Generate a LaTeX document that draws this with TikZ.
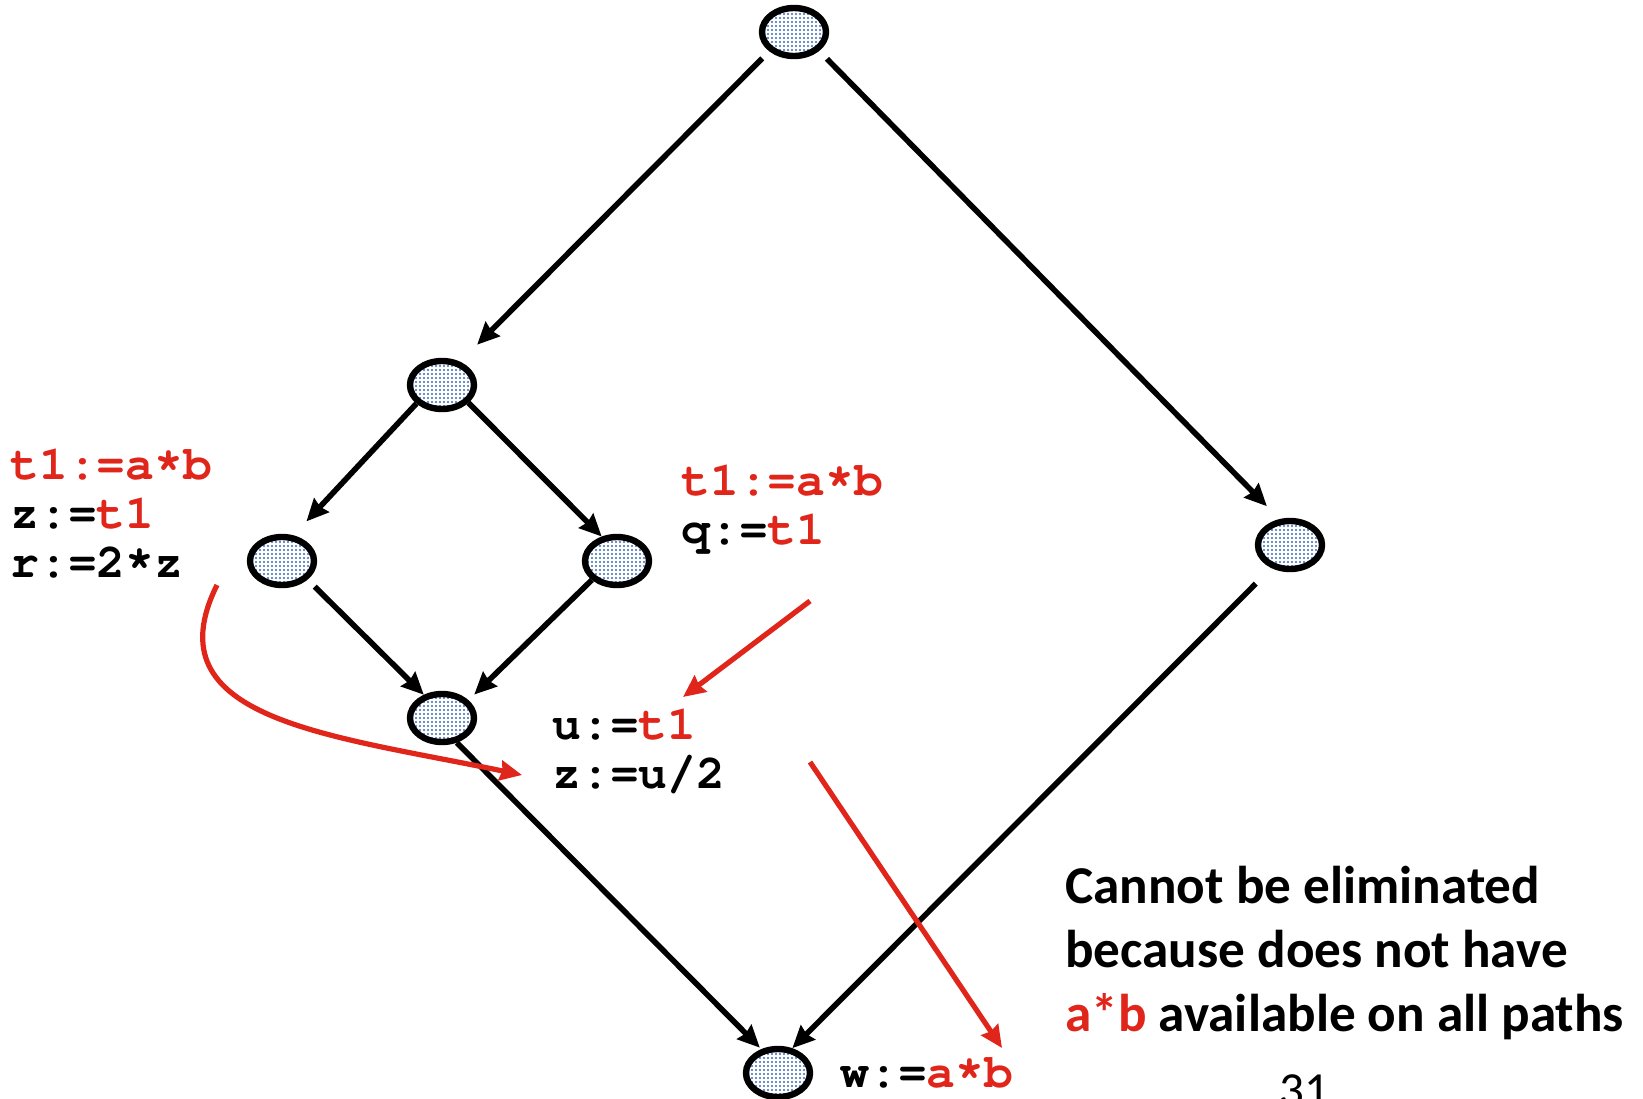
\documentclass[tikz,border=0pt]{standalone}
\usepackage{fontspec}
\setmainfont{Carlito}
\setmonofont{Liberation Mono}
\usetikzlibrary{shapes.geometric,arrows.meta,patterns.meta}

\definecolor{hot}{HTML}{E0261B}
\definecolor{dots}{HTML}{3A68B8}

% raised asterisk for the code lines
\newcommand\tms{\raisebox{0.3ex}{*}}

\tikzset{
  blk/.style={ellipse, draw, line width=3.2pt, minimum width=32pt, minimum height=24pt,
    inner sep=0pt, preaction={fill=white}, pattern={Dots[distance=2pt,radius=0.6pt]}, pattern color=dots},
  code/.style={anchor=base west, inner sep=0pt, align=left,
    font=\fontencoding{T1}\fontfamily{pcr}\fontseries{b}\fontsize{24}{24.5}\selectfont},
  flow/.style={-{Stealth[length=11pt,width=10pt,inset=1pt]}, line width=2.8pt},
  hint/.style={flow, hot, line width=2.6pt},
}

\begin{document}
\begin{tikzpicture}[x=0.5pt, y=-0.5pt]
\path[use as bounding box, fill=white] (0,0) rectangle (1643,1098);

% blocks of the flow graph
\path
(794,32) node[blk] (A) {}
(442,385) node[blk] (B) {}
(282,561) node[blk] (C) {}
(617,561) node[blk] (D) {}
(442,718) node[blk] (E) {}
(1290,545) node[blk] (F) {}
(778,1073) node[blk] (G) {};

\draw[flow, shorten <=5pt, shorten >=12pt] (A.218) -- (B.52);
\draw[flow, shorten <=5.5pt, shorten >=9pt] (A.323) -- (F.112);
\draw[flow, shorten >=9.5pt] (B.216) -- (C.66);
\draw[flow] (B.326) -- (D.122);
\draw[flow, shorten <=5pt] (C.324) -- (E.128);
\draw[flow, shorten >=4pt] (D.217) -- (E.34);
\draw[flow, shorten >=1pt] (E.301) -- (G.125);
\draw[flow, shorten <=11pt] (F.231) -- (G.60);

% statements (anchored on the last line)
\node[code] (L) at (10,577) {{\color{hot}t1:=a\tms b}\\z:={\color{hot}t1}\\r:=2\tms z};
\node[code] (Q) at (681,544) {{\color{hot}t1:=a\tms b}\\q:={\color{hot}t1}};
\node[code] (U) at (552,788) {u:={\color{hot}t1}\\z:=u/2};
\node[code] (W) at (840,1087) {w:={\color{hot}a\tms b}};

% red hints
\coordinate (p1) at (217,585);
\coordinate (p2) at (522,775);
\coordinate (q1) at (810,601);
\coordinate (q2) at (683,697);
\coordinate (s1) at (810,762);
\coordinate (s2) at (1002,1048);
\draw[hint] (p1) .. controls (150,720) and (330,735) .. (p2);
\draw[hint] (q1) -- (q2);
\draw[hint] (s1) -- (s2);

\node[anchor=base west, inner sep=0pt, align=left, font=\bfseries\fontsize{26.6}{32}\selectfont] (note) at (1065,1031)
  {Cannot be eliminated\\because does not have\\{\color{hot}a*b} available on all paths};
\node[anchor=base west, inner sep=0pt, font=\fontsize{24.5}{30}\selectfont] (pg) at (1279,1106) {31};
\end{tikzpicture}
\end{document}
